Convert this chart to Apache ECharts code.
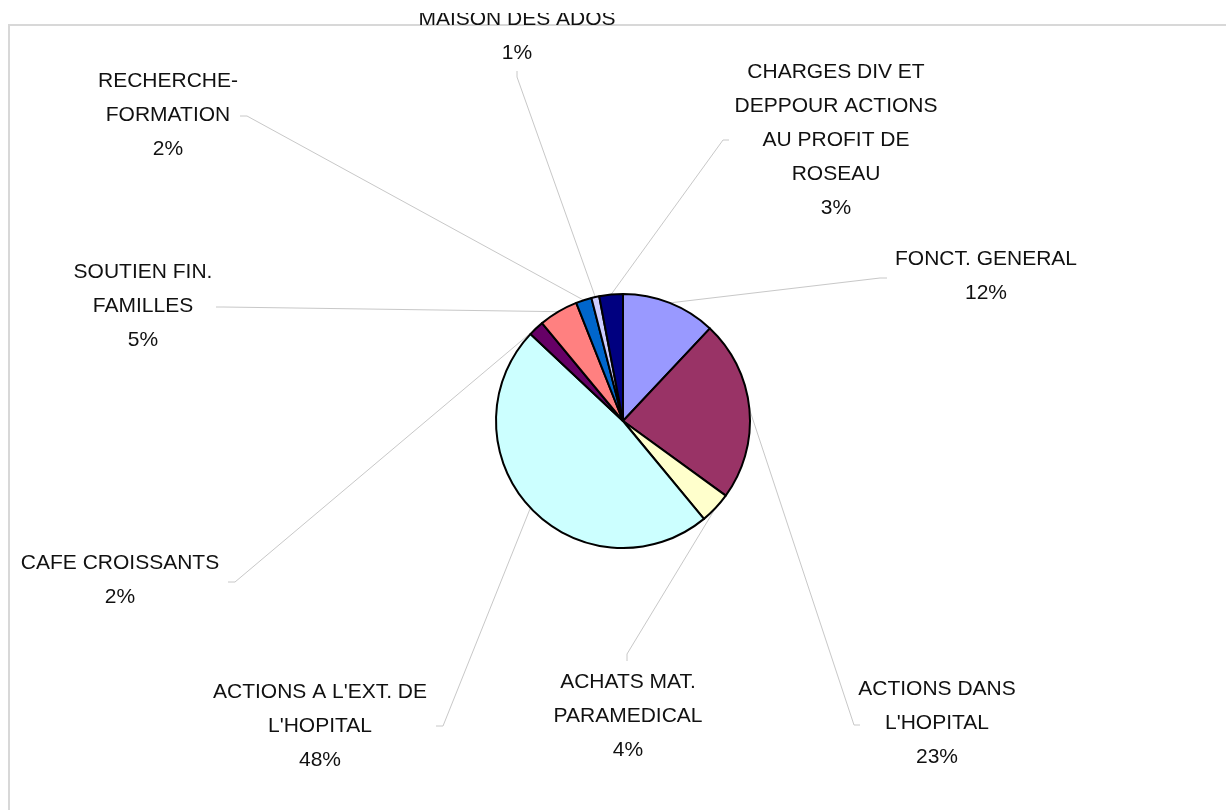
<!DOCTYPE html>
<html>
<head>
<meta charset="utf-8">
<title>Répartition des dépenses</title>
<script src="https://cdn.jsdelivr.net/npm/echarts@6/dist/echarts.min.js"></script>
<style>
  html, body { margin: 0; padding: 0; background: #ffffff; }
  #chart { width: 1226px; height: 810px; }
</style>
</head>
<body>
<div id="chart"></div>
<script>
// Données du graphique (sens horaire depuis midi)
const categories = [
  'FONCT. GENERAL',
  "ACTIONS DANS\nL'HOPITAL",
  'ACHATS MAT.\nPARAMEDICAL',
  "ACTIONS A L'EXT. DE\nL'HOPITAL",
  'CAFE CROISSANTS',
  'SOUTIEN FIN.\nFAMILLES',
  'RECHERCHE-\nFORMATION',
  'MAISON DES ADOS',
  'CHARGES DIV ET\nDEPPOUR ACTIONS\nAU PROFIT DE\nROSEAU'
];
const values = [12, 23, 4, 48, 2, 5, 2, 1, 3];
const colors = ['#9999FF', '#993366', '#FFFFCC', '#CCFFFF', '#660066', '#FF8080', '#0066CC', '#CCCCFF', '#000080'];

// Placement des étiquettes : centre du texte, coude et fin du trait de rappel
const labelSpots = [
  { text: [986, 276], bend: [880, 278], end: [887, 278] },
  { text: [937, 723], bend: [854, 725], end: [860, 725] },
  { text: [628, 716], bend: [627, 654], end: [627, 661] },
  { text: [320, 726], bend: [443, 726], end: [436, 726] },
  { text: [120, 580], bend: [235, 582], end: [228, 582] },
  { text: [143, 306], bend: [223, 307], end: [216, 307] },
  { text: [168, 115], bend: [247, 116], end: [240, 116] },
  { text: [517, 36], bend: [517, 77], end: [517, 71] },
  { text: [836, 140], bend: [723, 140], end: [729, 140] }
];

const chart = echarts.init(document.getElementById('chart'));

const option = {
  backgroundColor: '#ffffff',
  animation: false,
  graphic: [
    // cadre gris clair
    {
      type: 'rect',
      z: 0,
      shape: { x: 9, y: 25, width: 1400, height: 1000 },
      style: { fill: 'none', stroke: '#d8d8d8', lineWidth: 2 }
    },
    // haut de l'image coupé
    {
      type: 'rect',
      z: 100,
      shape: { x: 0, y: 0, width: 1226, height: 13 },
      style: { fill: '#ffffff' }
    }
  ],
  series: [
    {
      type: 'pie',
      center: [623, 421],
      radius: 127,
      startAngle: 90,
      clockwise: true,
      avoidLabelOverlap: false,
      percentPrecision: 0,
      itemStyle: {
        borderColor: '#000000',
        borderWidth: 2
      },
      label: {
        show: true,
        position: 'outside',
        formatter: '{b}\n{d}%',
        color: '#111111',
        fontFamily: 'Liberation Sans, Arial, sans-serif',
        fontSize: 21,
        lineHeight: 34,
        align: 'center'
      },
      labelLine: {
        show: true,
        lineStyle: { color: '#c8c8c8', width: 1 }
      },
      labelLayout: function (params) {
        const spot = labelSpots[params.dataIndex];
        const start = params.labelLinePoints[0];
        return {
          x: spot.text[0],
          y: spot.text[1],
          align: 'center',
          verticalAlign: 'middle',
          labelLinePoints: [[start[0], start[1]], spot.bend, spot.end]
        };
      },
      emphasis: { disabled: true },
      data: categories.map((name, i) => ({
        name: name,
        value: values[i],
        itemStyle: { color: colors[i] }
      }))
    }
  ]
};

chart.setOption(option);
</script>
</body>
</html>
